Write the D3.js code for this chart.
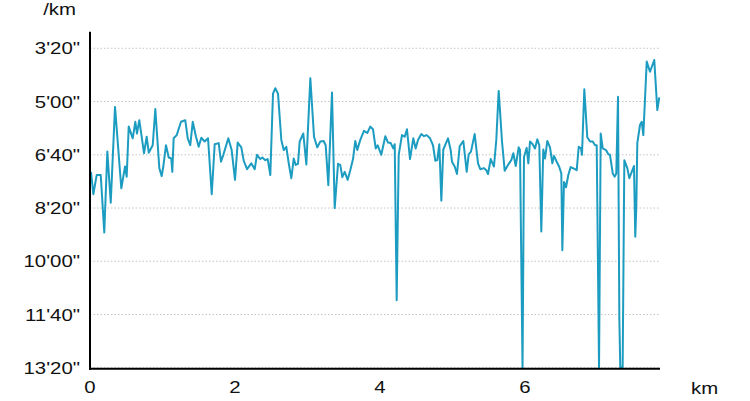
<!DOCTYPE html>
<html>
<head>
  <meta charset="utf-8">
  <script src="https://d3js.org/d3.v7.min.js"></script>
  <style>
  body { margin: 0; background: #fff; }
  text {
    font-family: "Liberation Sans", Arial, Helvetica, sans-serif;
    font-size: 17px;
    fill: #111;
  }
  .grid line {
    stroke: #c4c4c4;
    stroke-width: 1px;
    stroke-dasharray: 1.5, 2;
  }
  .axis-line {
    stroke: #000;
    stroke-width: 2px;
  }
  .pace_line {
    fill: none;
    stroke: #1c9cc0;
    stroke-width: 2px;
    stroke-linejoin: round;
  }
  </style>
</head>
<body>
<script>
// distance (km)
var distance = [
  0.014, 0.046, 0.092, 0.148, 0.197, 0.239, 0.286, 0.345, 0.432, 0.483,
  0.506, 0.534, 0.589, 0.625, 0.648, 0.680, 0.745, 0.782, 0.810, 0.865,
  0.901, 0.956, 0.989, 1.011, 1.048, 1.086, 1.121, 1.135, 1.154, 1.196,
  1.255, 1.314, 1.348, 1.383, 1.417, 1.462, 1.499, 1.535, 1.582, 1.628,
  1.679, 1.720, 1.775, 1.807, 1.839, 1.908, 1.954, 2.000, 2.037, 2.087,
  2.120, 2.166, 2.225, 2.272, 2.303, 2.349, 2.377, 2.418, 2.451, 2.487,
  2.524, 2.556, 2.593, 2.639, 2.672, 2.708, 2.741, 2.777, 2.810, 2.837,
  2.869, 2.892, 2.942, 2.984, 3.039, 3.090, 3.135, 3.177, 3.223, 3.251,
  3.287, 3.338, 3.375, 3.421, 3.452, 3.480, 3.513, 3.554, 3.590, 3.628,
  3.659, 3.687, 3.728, 3.779, 3.825, 3.866, 3.903, 3.941, 3.968, 4.018,
  4.073, 4.110, 4.148, 4.183, 4.203, 4.230, 4.258, 4.303, 4.341, 4.372,
  4.414, 4.459, 4.492, 4.524, 4.570, 4.607, 4.644, 4.690, 4.731, 4.763,
  4.790, 4.818, 4.846, 4.873, 4.938, 4.975, 4.993, 5.030, 5.062, 5.099,
  5.149, 5.196, 5.223, 5.255, 5.306, 5.352, 5.383, 5.434, 5.466, 5.490,
  5.527, 5.572, 5.604, 5.637, 5.683, 5.720, 5.775, 5.811, 5.839, 5.872,
  5.913, 5.931, 5.966, 5.986, 6.023, 6.046, 6.069, 6.106, 6.138, 6.170,
  6.197, 6.225, 6.252, 6.276, 6.308, 6.345, 6.377, 6.400, 6.437, 6.473,
  6.501, 6.515, 6.538, 6.566, 6.597, 6.630, 6.690, 6.713, 6.741, 6.772,
  6.786, 6.818, 6.859, 6.897, 6.934, 6.966, 6.989, 7.021, 7.044, 7.072,
  7.117, 7.149, 7.172, 7.210, 7.237, 7.259, 7.283, 7.301, 7.314, 7.347,
  7.370, 7.411, 7.439, 7.472, 7.503, 7.521, 7.535, 7.549, 7.586, 7.610,
  7.632, 7.679, 7.724, 7.783, 7.825, 7.852
];

// pace (seconds per km)
var pace = [
  433, 475, 439, 439, 547, 395, 491, 311, 464, 423,
  442, 348, 370, 339, 361, 336, 398, 367, 397, 383,
  315, 426, 441, 423, 383, 406, 408, 433, 370, 364,
  339, 336, 370, 383, 339, 367, 386, 369, 376, 370,
  475, 381, 379, 414, 401, 370, 392, 448, 378, 387,
  412, 428, 417, 428, 401, 409, 406, 411, 409, 439,
  286, 276, 286, 373, 392, 386, 417, 445, 408, 420,
  418, 376, 361, 419, 257, 367, 387, 376, 375, 383,
  458, 284, 501, 418, 420, 443, 433, 448, 430, 409,
  375, 392, 373, 356, 360, 348, 353, 389, 383, 401,
  366, 378, 379, 389, 381, 674, 401, 364, 367, 353,
  409, 370, 389, 373, 362, 366, 364, 370, 383, 412,
  411, 381, 487, 391, 370, 392, 414, 423, 437, 385,
  375, 433, 400, 395, 362, 417, 428, 426, 430, 437,
  409, 423, 373, 281, 376, 431, 418, 411, 398, 422,
  387, 392, 800, 405, 388, 417, 376, 381, 389, 372,
  383, 545, 391, 408, 375, 387, 417, 403, 414, 424,
  436, 580, 452, 462, 439, 424, 428, 430, 386, 389,
  401, 278, 368, 376, 376, 383, 383, 800, 361, 389,
  392, 400, 401, 436, 442, 436, 292, 707, 800, 800,
  411, 426, 445, 433, 422, 555, 501, 379, 345, 339,
  364, 226, 245, 223, 317, 293
];

var xTicks = [0, 2, 4, 6];
var yTicks = [200, 300, 400, 500, 600, 700, 800];

function paceLabel(s) {
  var m = Math.floor(s / 60), sec = s % 60;
  return m + "'" + (sec < 10 ? "0" : "") + sec + '"';
}

var W = 750, H = 401;
var plotLeft = 90, plotRight = 660, plotTop = 31.8, plotBottom = 367.3;

var svg = d3.select("body").append("svg")
  .attr("width", W)
  .attr("height", H);

var x = d3.scaleLinear()
  .domain([0, 7.862])
  .range([plotLeft, plotRight]);

var y = d3.scaleLinear()
  .domain([170, 800])
  .range([plotTop, plotBottom]);

// dotted grid lines
svg.append("g").attr("class", "grid")
  .selectAll("line")
  .data(yTicks)
  .enter().append("line")
    .attr("x1", plotLeft)
    .attr("x2", plotRight)
    .attr("y1", function(d) { return y(d) + 0.5; })
    .attr("y2", function(d) { return y(d) + 0.5; });

// pace line
var data = distance.map(function(d, i) { return { km: d, pace: pace[i] }; });

var line = d3.line()
  .x(function(d) { return x(d.km); })
  .y(function(d) { return y(d.pace); });

svg.append("path")
  .datum(data)
  .attr("class", "pace_line")
  .attr("d", line);

// axis lines
svg.append("line").attr("class", "axis-line")
  .attr("x1", plotLeft).attr("x2", plotLeft)
  .attr("y1", plotTop).attr("y2", plotBottom + 2.5);
svg.append("line").attr("class", "axis-line")
  .attr("x1", plotLeft - 1).attr("x2", plotRight)
  .attr("y1", plotBottom + 1.5).attr("y2", plotBottom + 1.5);

// y tick labels (text is a bit wide in the reference)
svg.append("g")
  .selectAll("g")
  .data(yTicks)
  .enter().append("g")
    .attr("transform", function(d) { return "translate(80," + (y(d) + 6.5) + ") scale(1.2,1)"; })
  .append("text")
    .attr("text-anchor", "end")
    .text(paceLabel);

// x tick labels
svg.append("g")
  .selectAll("g")
  .data(xTicks)
  .enter().append("g")
    .attr("transform", function(d) { return "translate(" + x(d) + ",393) scale(1.2,1)"; })
  .append("text")
    .attr("text-anchor", "middle")
    .text(function(d) { return d; });

// unit labels
svg.append("g").attr("transform", "translate(76,15) scale(1.2,1)")
  .append("text").attr("text-anchor", "end").text("/km");
svg.append("g").attr("transform", "translate(691,394) scale(1.2,1)")
  .append("text").text("km");
</script>
</body>
</html>
